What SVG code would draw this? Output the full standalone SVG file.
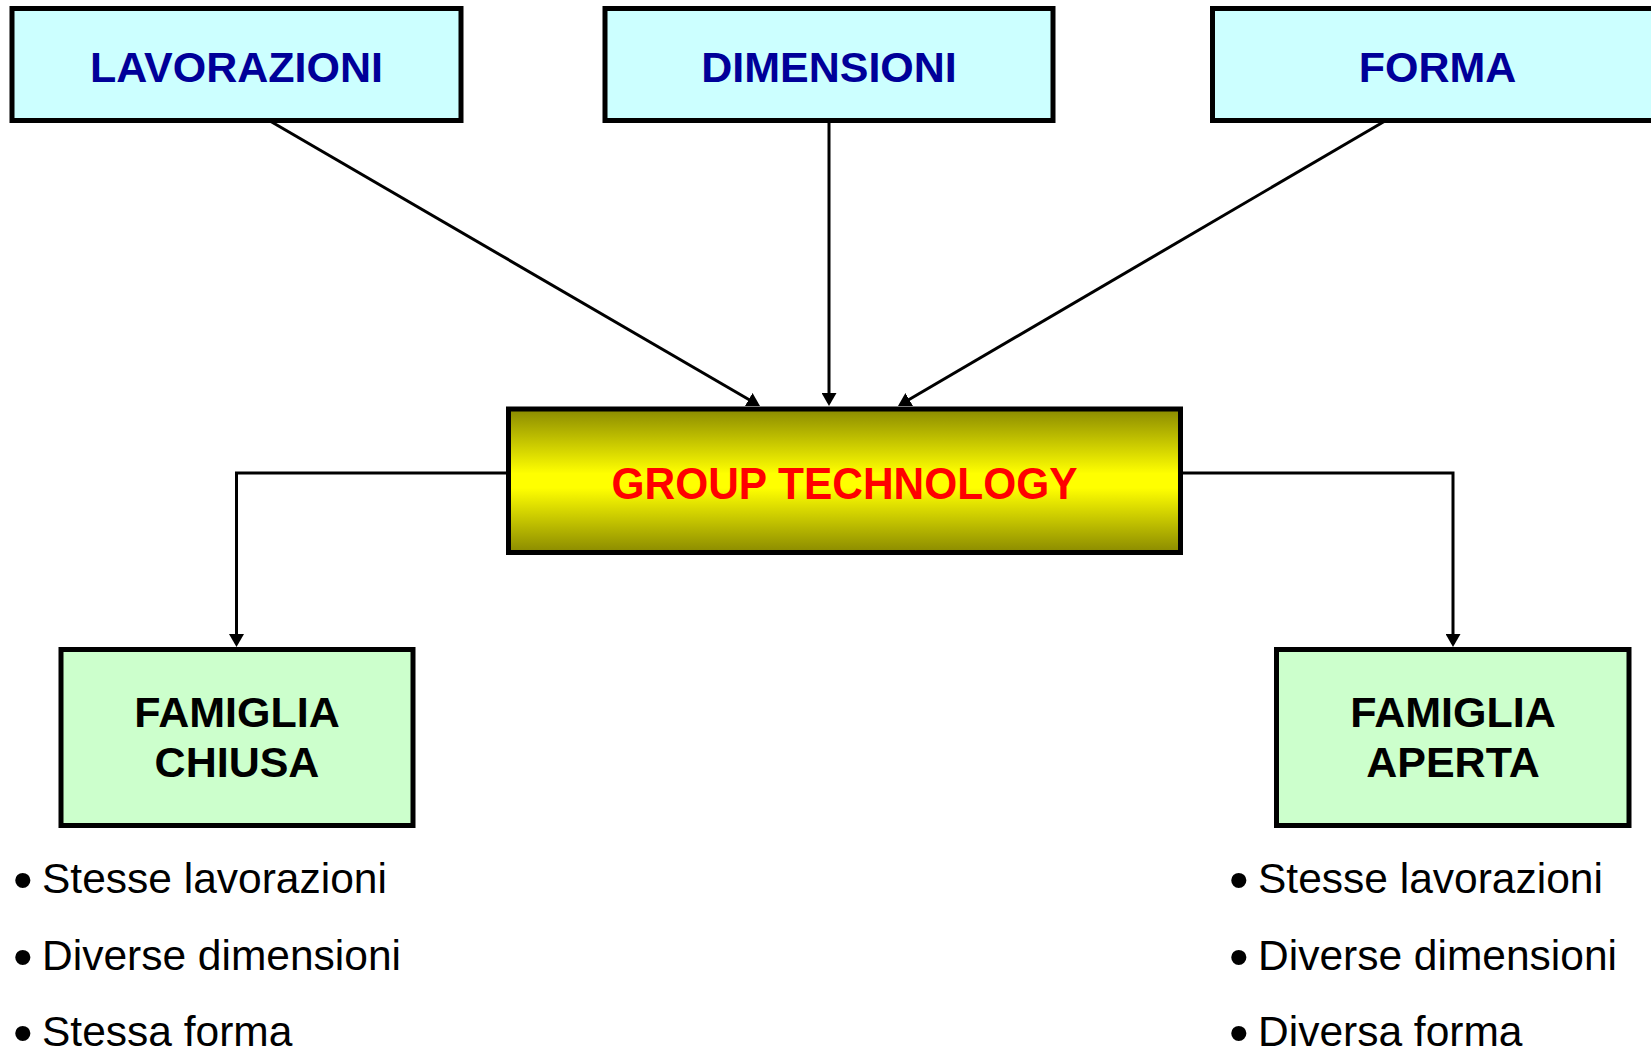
<svg xmlns="http://www.w3.org/2000/svg" width="1651" height="1051" viewBox="0 0 1651 1051">
  <style>
    .box { stroke: #000; stroke-width: 5; }
    .top { fill: #CCFFFF; }
    .fam { fill: #CCFFCC; }
    .toplbl { font-family: "Liberation Sans", Arial, sans-serif; font-weight: bold; font-size: 43px; fill: #000099; text-anchor: middle; }
    .famlbl { font-family: "Liberation Sans", Arial, sans-serif; font-weight: bold; font-size: 43px; fill: #000; text-anchor: middle; }
    .gtlbl { font-family: "Liberation Sans", Arial, sans-serif; font-weight: bold; font-size: 44px; fill: #FF0000; text-anchor: middle; }
    .bul { font-family: "Liberation Sans", Arial, sans-serif; font-size: 42.5px; fill: #000; }
    .dot { font-size: 56px; }
    .conn { fill: none; stroke: #000; stroke-width: 3; marker-end: url(#arr); }
  </style>
  <defs>
    <marker id="arr" viewBox="0 0 13 15" refX="10" refY="7.5" markerWidth="13" markerHeight="15" markerUnits="userSpaceOnUse" orient="auto">
      <path d="M0,0 L13,7.5 L0,15 z" fill="#000"/>
    </marker>
    <linearGradient id="gtg" x1="0" y1="0" x2="0" y2="1">
      <stop offset="0" stop-color="#8A8A00"/>
      <stop offset="0.45" stop-color="#FFFF00"/>
      <stop offset="0.55" stop-color="#FFFF00"/>
      <stop offset="1" stop-color="#8A8A00"/>
    </linearGradient>
  </defs>
  <rect width="1651" height="1051" fill="#FFFFFF"/>

  <g id="connectors">
    <path class="conn" d="M270,121 L757.4,404.5"/>
    <path class="conn" d="M829,121 L829,403"/>
    <path class="conn" d="M1385,121 L900.6,404.5"/>
    <path class="conn" d="M507,473 H236.5 V644"/>
    <path class="conn" d="M1182,473 H1453 V644"/>
  </g>

  <g id="node-lavorazioni">
    <rect class="box top" x="12" y="8.5" width="449" height="112"/>
    <text class="toplbl" x="236.5" y="81.5">LAVORAZIONI</text>
  </g>
  <g id="node-dimensioni">
    <rect class="box top" x="605" y="8.5" width="448" height="112"/>
    <text class="toplbl" x="829" y="81.5">DIMENSIONI</text>
  </g>
  <g id="node-forma">
    <rect class="box top" x="1212.5" y="8.5" width="450" height="112"/>
    <text class="toplbl" x="1437.5" y="81.5">FORMA</text>
  </g>

  <g id="node-group-technology">
    <rect class="box" x="508.5" y="409" width="672" height="143.5" fill="url(#gtg)"/>
    <text class="gtlbl" x="844.5" y="498.5" textLength="466" lengthAdjust="spacingAndGlyphs">GROUP TECHNOLOGY</text>
  </g>

  <g id="node-famiglia-chiusa">
    <rect class="box fam" x="61" y="649.5" width="352" height="176"/>
    <text class="famlbl" x="237" y="727">FAMIGLIA</text>
    <text class="famlbl" x="237" y="777">CHIUSA</text>
  </g>
  <g id="node-famiglia-aperta">
    <rect class="box fam" x="1276.5" y="649.5" width="352.5" height="176"/>
    <text class="famlbl" x="1453" y="727">FAMIGLIA</text>
    <text class="famlbl" x="1453" y="777">APERTA</text>
  </g>

  <g id="list-chiusa">
    <text class="bul" y="892.5"><tspan class="dot" x="13" dy="6">•</tspan><tspan x="42" dy="-6">Stesse lavorazioni</tspan></text>
    <text class="bul" y="969.5"><tspan class="dot" x="13" dy="6">•</tspan><tspan x="42" dy="-6">Diverse dimensioni</tspan></text>
    <text class="bul" y="1045.5"><tspan class="dot" x="13" dy="6">•</tspan><tspan x="42" dy="-6">Stessa forma</tspan></text>
  </g>
  <g id="list-aperta">
    <text class="bul" y="892.5"><tspan class="dot" x="1229" dy="6">•</tspan><tspan x="1258" dy="-6">Stesse lavorazioni</tspan></text>
    <text class="bul" y="969.5"><tspan class="dot" x="1229" dy="6">•</tspan><tspan x="1258" dy="-6">Diverse dimensioni</tspan></text>
    <text class="bul" y="1045.5"><tspan class="dot" x="1229" dy="6">•</tspan><tspan x="1258" dy="-6">Diversa forma</tspan></text>
  </g>
</svg>
